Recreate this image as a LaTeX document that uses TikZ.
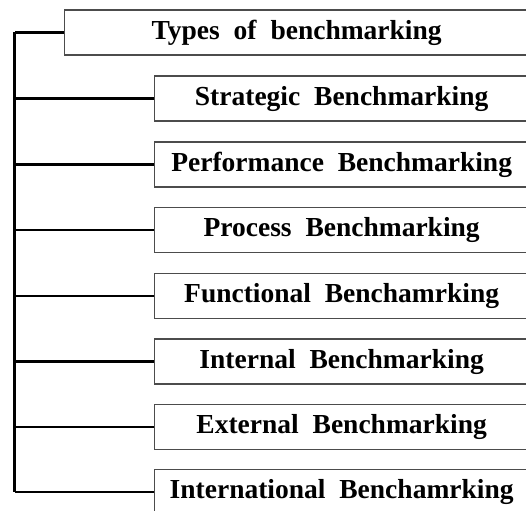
\documentclass[tikz,border=0pt]{standalone}
\usepackage{fontspec}
\setmainfont{Liberation Serif}
\newcommand\boxfont{\fontsize{27.5}{31}\selectfont\bfseries}
\newcommand\wg{\ \hspace{7pt}}
\begin{document}
\begin{tikzpicture}[x=1pt,y=-1pt,
  boxstyle/.style={draw=black!70, line width=1.3pt, rectangle, minimum height=45pt, inner sep=0pt,
    font=\boxfont, anchor=west},
  topbox/.style={boxstyle, minimum width=464pt},
  subbox/.style={boxstyle, minimum width=374pt},
  conn/.style={draw=black, line width=2.2pt}]
\useasboundingbox (0,0) rectangle (526,510);
\coordinate (spine) at (14.5,0);
\node[topbox] (t) at (64,32.5) {Types\wg of\wg benchmarking};
\node[subbox] (b1) at (154,98.5) {Strategic\wg Benchmarking};
\node[subbox] (b2) at (154,164.5) {Performance\wg Benchmarking};
\node[subbox] (b3) at (154,230) {Process\wg Benchmarking};
\node[subbox] (b4) at (154,296) {Functional\wg Benchamrking};
\node[subbox] (b5) at (154,361.5) {Internal\wg Benchmarking};
\node[subbox] (b6) at (154,427) {External\wg Benchmarking};
\node[subbox] (b7) at (154,492) {International\wg Benchamrking};
\draw[conn] (t.west -| spine) -- (b7.west -| spine);
\foreach \n in {t,b1,b2,b3,b4,b5,b6,b7}{
  \draw[conn] (\n.west) -- (\n.west -| spine);
}
\end{tikzpicture}
\end{document}
